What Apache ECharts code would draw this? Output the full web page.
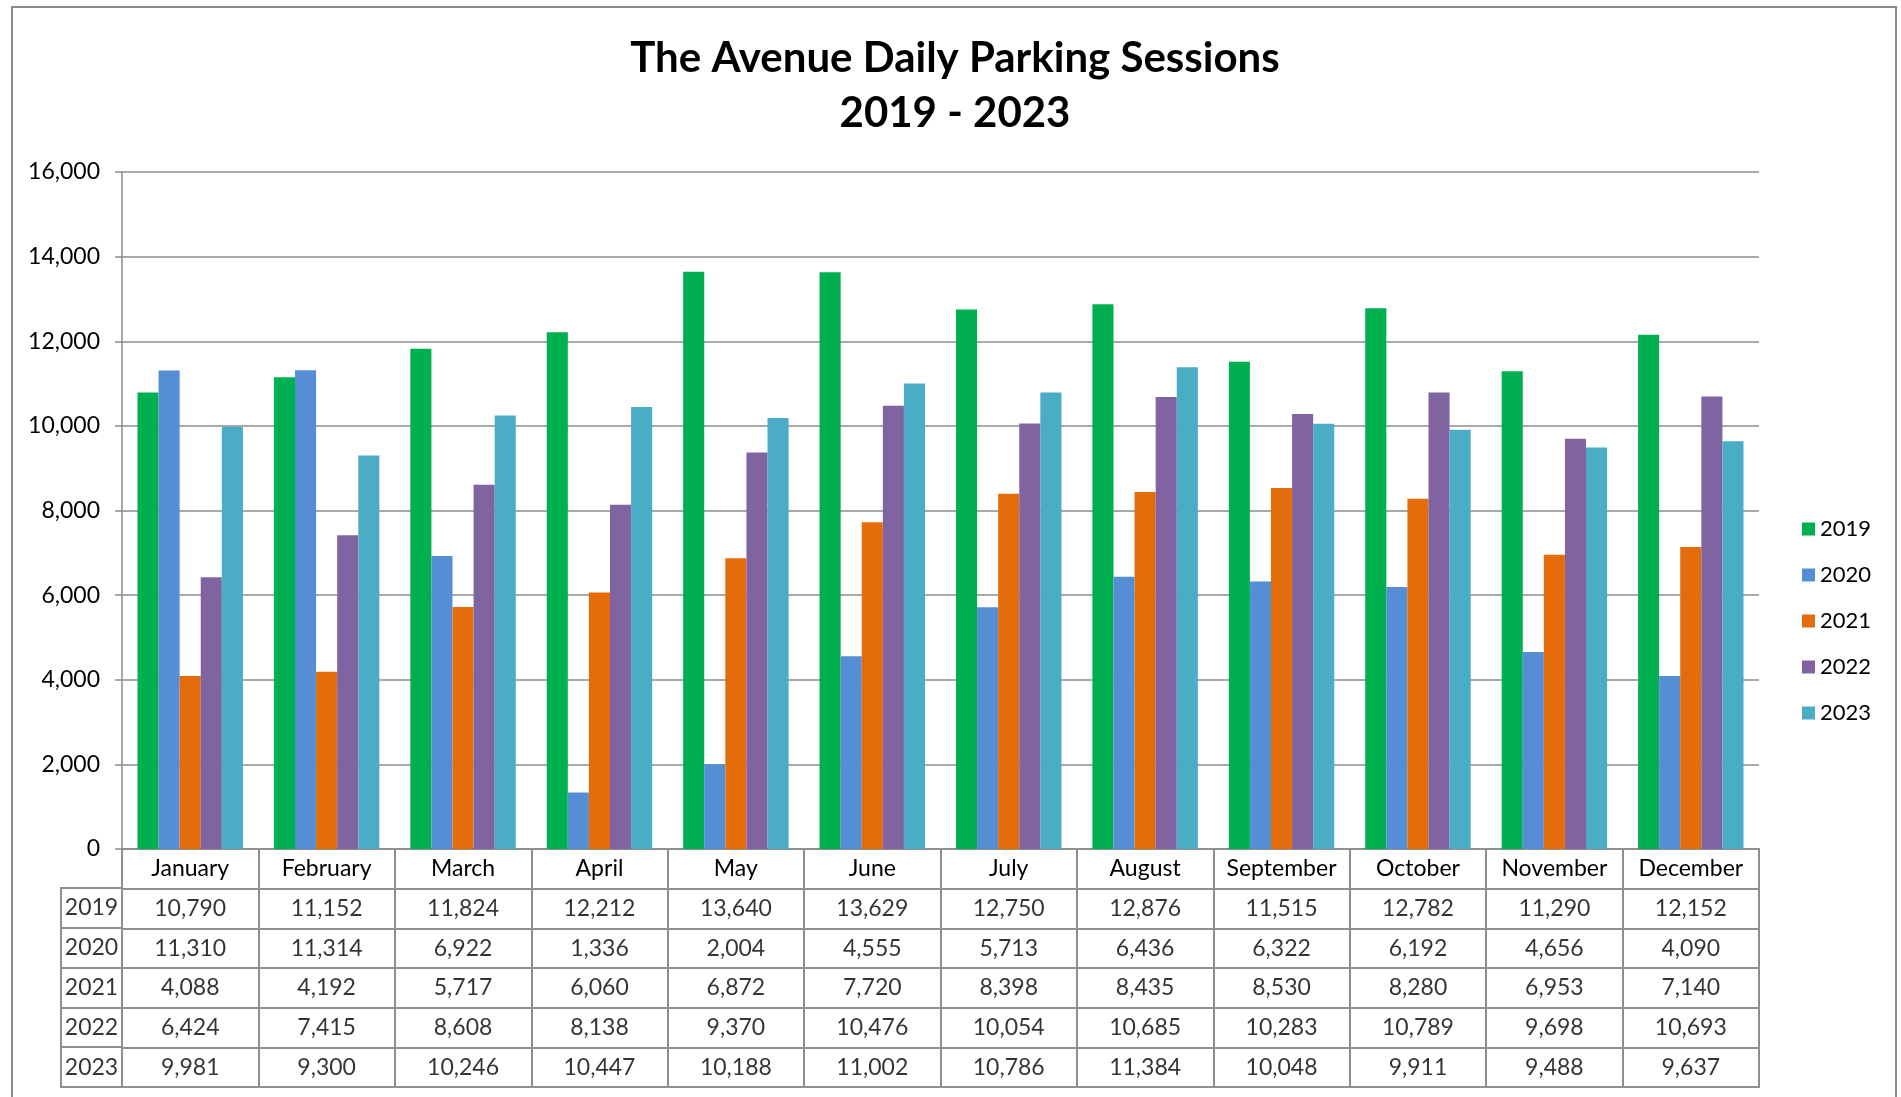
<!DOCTYPE html>
<html>
<head>
<meta charset="utf-8">
<script src="https://cdn.jsdelivr.net/npm/echarts@6/dist/echarts.min.js"></script>
<style>
  html, body { margin: 0; padding: 0; background: #ffffff; }
  #chart { width: 1901px; height: 1097px; }
</style>
</head>
<body>
<div id="chart"></div>
<script>
// ---- Data ----
const months = ['January', 'February', 'March', 'April', 'May', 'June', 'July', 'August', 'September', 'October', 'November', 'December'];
const years = ['2019', '2020', '2021', '2022', '2023'];
const s2019 = [10790, 11152, 11824, 12212, 13640, 13629, 12750, 12876, 11515, 12782, 11290, 12152];
const s2020 = [11310, 11314, 6922, 1336, 2004, 4555, 5713, 6436, 6322, 6192, 4656, 4090];
const s2021 = [4088, 4192, 5717, 6060, 6872, 7720, 8398, 8435, 8530, 8280, 6953, 7140];
const s2022 = [6424, 7415, 8608, 8138, 9370, 10476, 10054, 10685, 10283, 10789, 9698, 10693];
const s2023 = [9981, 9300, 10246, 10447, 10188, 11002, 10786, 11384, 10048, 9911, 9488, 9637];
const yTicks = { min: 0, max: 16000, interval: 2000 };

// ---- Styling ----
const seriesValues = [s2019, s2020, s2021, s2022, s2023];
const colors = ['#00B050', '#558ED5', '#E46C0A', '#8064A2', '#4BACC6'];
const FONT = 'Lato, "Liberation Sans", sans-serif';
const gridColor = '#8c8c8c';
const tableColor = '#8f8f8f';
const fmt = v => Number(v).toLocaleString('en-US');

const rowCats = [''].concat(years);

const barSeries = years.map((y, i) => ({
  name: y,
  type: 'bar',
  xAxisIndex: 0,
  yAxisIndex: 0,
  data: seriesValues[i],
  itemStyle: { color: colors[i] },
  barGap: '0%',
  barCategoryGap: '22.7%'
}));

const cellData = [];
years.forEach((y, i) => {
  months.forEach((m, j) => cellData.push([m, y, seriesValues[i][j]]));
});

const yearData = years.map(y => ['', y]);

const chart = echarts.init(document.getElementById('chart'), null, { renderer: 'canvas' });
chart.setOption({
  animation: false,
  backgroundColor: '#ffffff',
  textStyle: { fontFamily: FONT },
  graphic: [{
    type: 'rect',
    shape: { x: 12, y: 7, width: 1884, height: 1110 },
    style: { fill: 'none', stroke: '#8a8a8a', lineWidth: 2 },
    silent: true
  }],
  title: {
    text: 'The Avenue Daily Parking Sessions\n2019 - 2023',
    left: 950,
    top: 26,
    textAlign: 'center',
    textStyle: { fontFamily: FONT, fontWeight: 'bold', fontSize: 42, lineHeight: 55, color: '#000' }
  },
  legend: {
    data: years,
    orient: 'vertical',
    left: 1797,
    top: 513,
    icon: 'rect',
    itemWidth: 13,
    itemHeight: 13,
    itemGap: 24,
    textStyle: { fontFamily: FONT, fontSize: 22, color: '#000' }
  },
  grid: [
    { left: 122, right: 142, top: 172, bottom: 248, containLabel: false },
    { left: 122, right: 142, top: 849, bottom: 10, show: true, borderColor: tableColor, borderWidth: 2 },
    { left: 61, right: 1779, top: 888, bottom: 10, show: true, borderColor: tableColor, borderWidth: 2 }
  ],
  xAxis: [
    {
      gridIndex: 0, type: 'category', data: months,
      axisLine: { show: true, lineStyle: { color: tableColor, width: 2 } },
      axisTick: { show: false },
      axisLabel: { fontFamily: FONT, fontSize: 23, color: '#000', margin: 8, interval: 0 }
    },
    {
      gridIndex: 1, type: 'category', data: months,
      axisLine: { show: false }, axisTick: { show: false }, axisLabel: { show: false },
      splitLine: { show: true, interval: 0, lineStyle: { color: tableColor, width: 2 } }
    },
    {
      gridIndex: 2, type: 'category', data: [''],
      axisLine: { show: false }, axisTick: { show: false }, axisLabel: { show: false },
      splitLine: { show: false }
    }
  ],
  yAxis: [
    {
      gridIndex: 0, type: 'value', min: yTicks.min, max: yTicks.max, interval: yTicks.interval,
      axisLine: { show: true, lineStyle: { color: gridColor, width: 1.5 } },
      axisTick: { show: true, length: 7, lineStyle: { color: gridColor, width: 1.5 } },
      axisLabel: { fontFamily: FONT, fontSize: 23, color: '#000', margin: 22, formatter: v => fmt(v) },
      splitLine: { show: true, lineStyle: { color: gridColor, width: 1.5 } }
    },
    {
      gridIndex: 1, type: 'category', data: rowCats, inverse: true,
      axisLine: { show: false }, axisTick: { show: false }, axisLabel: { show: false },
      splitLine: { show: true, interval: 0, lineStyle: { color: tableColor, width: 2 } }
    },
    {
      gridIndex: 2, type: 'category', data: years, inverse: true,
      axisLine: { show: false }, axisTick: { show: false }, axisLabel: { show: false },
      splitLine: { show: true, interval: 0, lineStyle: { color: tableColor, width: 2 } }
    }
  ],
  series: barSeries.concat([
    {
      name: 'cells', type: 'scatter', xAxisIndex: 1, yAxisIndex: 1,
      data: cellData, symbolSize: 0, silent: true,
      label: {
        show: true, position: 'inside', fontFamily: FONT, fontSize: 23, color: '#000',
        formatter: p => fmt(p.value[2])
      }
    },
    {
      name: 'rowheads', type: 'scatter', xAxisIndex: 2, yAxisIndex: 2,
      data: yearData, symbolSize: 0, silent: true,
      label: {
        show: true, position: 'inside', fontFamily: FONT, fontSize: 23, color: '#000',
        formatter: p => p.value[1]
      }
    }
  ])
});
</script>
</body>
</html>
